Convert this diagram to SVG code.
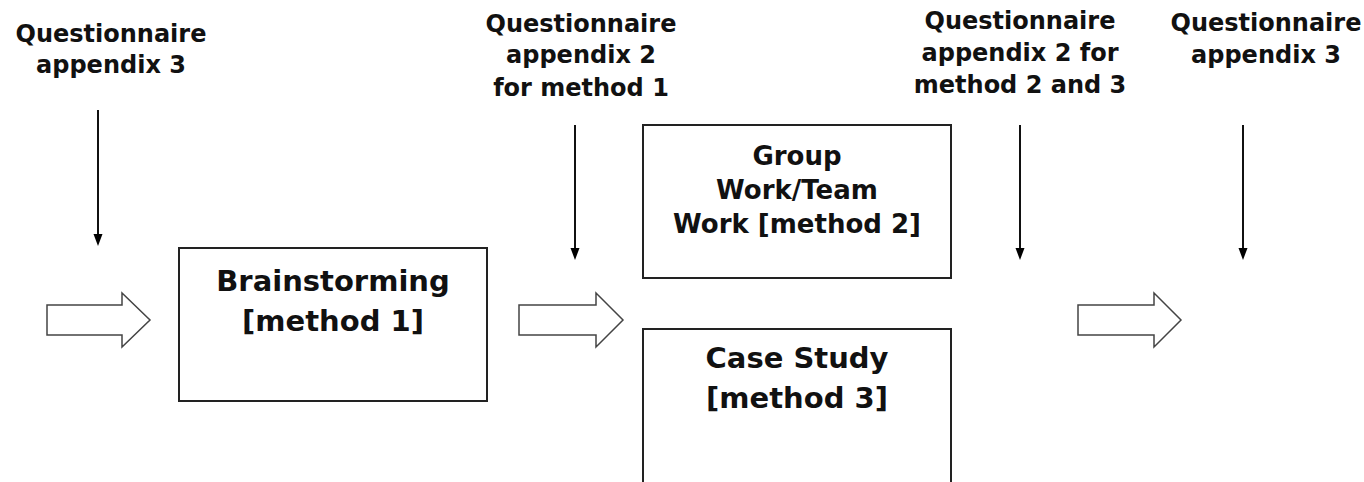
<svg xmlns="http://www.w3.org/2000/svg" width="1364" height="482" viewBox="0 0 1364 482">
<defs>
<marker id="ad" markerWidth="12" markerHeight="16" refX="8" refY="6" orient="auto" markerUnits="userSpaceOnUse" viewBox="0 0 16 12">
<path d="M0,0 L16,6 L0,12 Z" fill="#000"/>
</marker>
</defs>
<style>
.lbl{font-family:"DejaVu Sans",Verdana,sans-serif;font-weight:bold;font-size:24px;fill:#111;text-anchor:middle}
.mid{font-size:26px}
.big{font-size:29px}
.box{fill:#fff;stroke:#222;stroke-width:2}
.down{stroke:#111;stroke-width:2;fill:none;marker-end:url(#ad)}
.blk{fill:#fff;stroke:#444;stroke-width:1.5}
</style>
<rect width="1364" height="482" fill="#fff"/>
<g id="connectors">
<line class="down" x1="98" y1="110" x2="98" y2="240"/>
<line class="down" x1="575" y1="125" x2="575" y2="254"/>
<line class="down" x1="1020" y1="125" x2="1020" y2="254"/>
<line class="down" x1="1243" y1="125" x2="1243" y2="254"/>
<path class="blk" d="M47,305 H122 V293 L150,320 L122,347 V335 H47 Z"/>
<path class="blk" d="M519,305 H596 V293 L623,320 L596,347 V335 H519 Z"/>
<path class="blk" d="M1078,305 H1154 V293 L1181,320 L1154,347 V335 H1078 Z"/>
</g>
<g id="q1"><text class="lbl" x="111" y="42">Questionnaire</text><text class="lbl" x="111" y="73">appendix 3</text></g>
<g id="q2"><text class="lbl" x="581" y="32">Questionnaire</text><text class="lbl" x="581" y="63">appendix 2</text><text class="lbl" x="581" y="96">for method 1</text></g>
<g id="q3"><text class="lbl" x="1020" y="29">Questionnaire</text><text class="lbl" x="1020" y="61">appendix 2 for</text><text class="lbl" x="1020" y="93">method 2 and 3</text></g>
<g id="q4"><text class="lbl" x="1266" y="31">Questionnaire</text><text class="lbl" x="1266" y="63">appendix 3</text></g>
<g id="brainstorming"><rect class="box" x="179" y="248" width="308" height="153"/><text class="lbl big" x="333" y="291">Brainstorming</text><text class="lbl big" x="333" y="331">[method 1]</text></g>
<g id="groupwork"><rect class="box" x="643" y="125" width="308" height="153"/><text class="lbl mid" x="797" y="165">Group</text><text class="lbl mid" x="797" y="199">Work/Team</text><text class="lbl mid" x="797" y="233">Work [method 2]</text></g>
<g id="casestudy"><rect class="box" x="643" y="329" width="308" height="160"/><text class="lbl big" x="797" y="368">Case Study</text><text class="lbl big" x="797" y="408">[method 3]</text></g>
</svg>
